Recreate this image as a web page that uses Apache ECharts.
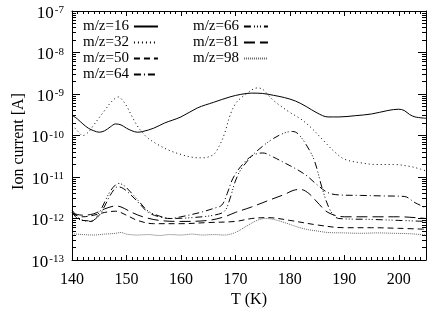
<!DOCTYPE html>
<html>
<head>
<meta charset="utf-8">
<script src="https://cdn.jsdelivr.net/npm/echarts@6/dist/echarts.min.js"></script>
<style>
html,body{margin:0;padding:0;background:#fff;}
#chart{width:436px;height:309px;}
</style>
</head>
<body>
<div id="chart"></div>
<script>
// Temperature (K) and ion current (A) for each m/z channel
const T16 = [140,141,142,143,144,145,146,147,148,149,150,151,152,153,155,157,160,163,166,169,171,173,175,177,179,181,183,185,187,189,192,195,198,200,201,202,203,205];
const I16 = [3.1e-10,2.5e-10,1.9e-10,1.5e-10,1.3e-10,1.2e-10,1.3e-10,1.6e-10,1.9e-10,1.8e-10,1.5e-10,1.3e-10,1.2e-10,1.25e-10,1.5e-10,2.0e-10,2.8e-10,4.6e-10,6.3e-10,8.5e-10,9.8e-10,1.05e-9,1.03e-9,9.3e-10,8.2e-10,6.8e-10,5.0e-10,3.5e-10,2.8e-10,2.8e-10,3.0e-10,3.3e-10,4.0e-10,4.3e-10,4.0e-10,3.2e-10,2.8e-10,2.6e-10];

const T32 = [140,141,142,143,144,145,146,147,148,148.5,149,150,151,152,153,154,156,158,160,162,164,166,167,168,169,170,171,172,173,174,175,176,177,178,180,182,184,186,188,190,193,196,199,202,204,205];
const I32 = [1.8e-10,1.3e-10,1.0e-10,1.2e-10,1.8e-10,2.7e-10,4.0e-10,6.0e-10,8.0e-10,8.5e-10,7.8e-10,5.2e-10,2.9e-10,1.7e-10,1.15e-10,8.5e-11,5.8e-11,4.3e-11,3.5e-11,3.0e-11,2.9e-11,3.5e-11,5.5e-11,1.1e-10,3.0e-10,5.8e-10,8.0e-10,1.0e-9,1.25e-9,1.4e-9,1.3e-9,9.5e-10,7.0e-10,5.5e-10,3.6e-10,2.5e-10,1.5e-10,8.0e-11,4.3e-11,2.7e-11,2.2e-11,2.0e-11,2.0e-11,1.8e-11,1.55e-11,1.4e-11];

const T50 = [140,142,144,146,148,150,152,155,160,165,170,173,176,180,185,190,195,200,205];
const I50 = [1.3e-12,1.1e-12,1.2e-12,1.4e-12,1.5e-12,1.2e-12,9e-13,7.5e-13,7.5e-13,8e-13,8.5e-13,1.0e-12,1.05e-12,9e-13,7e-13,6e-13,6e-13,5.8e-13,5.5e-13];

const T64 = [140,141,142,143.5,145,146,147,148,148.5,149.5,151,152.5,154,156,158,160,162,164,166,167.5,168.5,169.5,171,173,175,177,179,181,183,185,187,189,193,197,201,203,205];
const I64 = [1.6e-12,1.1e-12,9e-13,8.8e-13,1.2e-12,2.0e-12,3.6e-12,5.5e-12,5.8e-12,5.2e-12,3.5e-12,2.2e-12,1.4e-12,1.1e-12,1.0e-12,1.1e-12,1.25e-12,1.45e-12,1.75e-12,2.1e-12,4e-12,9e-12,1.8e-11,3.2e-11,3.8e-11,3.0e-11,2.2e-11,1.6e-11,1.1e-11,6.5e-12,4.2e-12,3.7e-12,3.6e-12,3.5e-12,3.4e-12,2.4e-12,1.8e-12];

const T66 = [140,141,142,143.5,145,146,147,148,148.5,149.5,151,152.5,154,156,158,162,166,168,169,170,171,173,175,177,179,180.5,181.5,183,184.5,186,187.5,189,195,200,205];
const I66 = [1.4e-12,1.0e-12,9e-13,8.5e-13,1.4e-12,2.5e-12,4.5e-12,6.5e-12,7e-12,6.3e-12,4e-12,2.4e-12,1.5e-12,1.15e-12,1.0e-12,1.05e-12,1.2e-12,1.5e-12,3e-12,8e-12,1.5e-11,3.2e-11,5.5e-11,8.5e-11,1.15e-10,1.25e-10,1.1e-10,6e-11,2.5e-11,5e-12,1.5e-12,1.0e-12,9.5e-13,9e-13,8.5e-13];

const T81 = [140,142,144,146,148,149,151,153,156,160,165,168,170,173,176,179,181,182,183.5,185,187,190,195,200,203,205];
const I81 = [1.35e-12,1.2e-12,1.3e-12,1.7e-12,2.0e-12,1.9e-12,1.4e-12,1.1e-12,9e-13,8.5e-13,9e-13,1.1e-12,1.4e-12,1.9e-12,2.7e-12,3.8e-12,4.9e-12,5e-12,4e-12,2.5e-12,1.4e-12,1.1e-12,1.1e-12,1.1e-12,1.05e-12,1.0e-12];

const T98 = [140,142,144,146,148,149,150,152,154,156,158,160,162,164,166,168,170,172,174,175.5,177,179,181,183,185,187,190,193,196,199,202,205];
const I98 = [4.3e-13,4.1e-13,4.0e-13,4.2e-13,4.4e-13,4.6e-13,4.2e-13,4.0e-13,4.1e-13,3.9e-13,4.1e-13,4.0e-13,4.2e-13,4.0e-13,4.1e-13,4.0e-13,4.6e-13,6.5e-13,9e-13,1.0e-12,9.5e-13,8e-13,6.5e-13,5.5e-13,5e-13,4.6e-13,4.5e-13,4.4e-13,4.5e-13,4.4e-13,4.3e-13,4.0e-13];

const xTicks = [140,150,160,170,180,190,200];
const yDecades = [-13,-12,-11,-10,-9,-8,-7];

const SCALE = 1e13; // plot in units of 1e-13 A on the log axis
const FONT = 'Liberation Serif';

function pairs(T, I){ return T.map((t,i)=>[t, I[i]*SCALE]); }

const defs = [
  {name:'m/z=16', T:T16, I:I16, dash:'solid', color:'#000'},
  {name:'m/z=32', T:T32, I:I32, dash:[1,3], color:'#000'},
  {name:'m/z=50', T:T50, I:I50, dash:[6,4], color:'#000'},
  {name:'m/z=64', T:T64, I:I64, dash:[7,3,1,3], color:'#000'},
  {name:'m/z=66', T:T66, I:I66, dash:[7,3,1,2,1,2,1,3], color:'#000'},
  {name:'m/z=81', T:T81, I:I81, dash:[11,5], color:'#000'},
  {name:'m/z=98', T:T98, I:I98, dash:[1,1], color:'#666'}
];

const series = defs.map(d => ({
  name: d.name,
  type: 'line',
  data: pairs(d.T, d.I),
  symbol: 'none',
  showSymbol: false,
  smooth: 0.35,
  lineStyle: {color: d.color, width: 1, type: d.dash},
  itemStyle: {color: d.color},
  animation: false
}));

const yMin = Math.pow(10, yDecades[0]) * SCALE;
const yMax = Math.pow(10, yDecades[yDecades.length-1]) * SCALE;

function yLabel(v){
  const e = Math.round(Math.log10(v)) - 13;
  return '{b|10}{s|' + e + '}';
}

const axisLine = {show:true, lineStyle:{color:'#000', width:1}};
const legendText = {fontFamily: FONT, fontSize: 15, color:'#000', padding:[0,0,7,0]};
const legendCommon = {orient:'vertical', top:14, align:'right', itemWidth:24, itemHeight:10, itemGap:1,
  textStyle: legendText, itemStyle:{opacity:0, borderWidth:0}};

const option = {
  backgroundColor: '#fff',
  animation: false,
  grid: {left:72, right:10, top:11, bottom:49, containLabel:false, outerBoundsMode:'none'},
  legend: [
    Object.assign({data: defs.slice(0,4).map(d=>d.name), left:78}, legendCommon),
    Object.assign({data: defs.slice(4).map(d=>d.name), left:188}, legendCommon)
  ],
  xAxis: [
    {type:'value', min:xTicks[0], max:205, interval:10, position:'bottom',
     name:'T (K)', nameLocation:'middle', nameGap:32, nameMoveOverlap:false,
     nameTextStyle:{fontFamily:FONT, fontSize:16, color:'#000'},
     axisLine: axisLine,
     axisTick:{show:true, inside:true, length:5, lineStyle:{color:'#000'}},
     minorTick:{show:true, splitNumber:10, length:3, lineStyle:{color:'#000', width:1}},
     axisLabel:{fontFamily:FONT, fontSize:16, color:'#000', margin:12, showMaxLabel:false},
     splitLine:{show:false}},
    {type:'value', min:xTicks[0], max:205, interval:10, position:'top',
     axisLine: axisLine,
     axisTick:{show:true, inside:true, length:5, lineStyle:{color:'#000'}},
     minorTick:{show:true, splitNumber:10, length:3, lineStyle:{color:'#000', width:1}},
     axisLabel:{show:false}, splitLine:{show:false}}
  ],
  yAxis: [
    {type:'log', logBase:10, min:yMin, max:yMax, position:'left',
     name:'Ion current [A]', nameLocation:'middle', nameGap:45, nameRotate:90, nameMoveOverlap:false,
     nameTextStyle:{fontFamily:FONT, fontSize:16, color:'#000', padding:[0,12,0,0]},
     axisLine: axisLine,
     axisTick:{show:true, inside:true, length:8, lineStyle:{color:'#000'}},
     minorTick:{show:true, splitNumber:9, length:4, lineStyle:{color:'#000', width:1}},
     axisLabel:{formatter: yLabel, margin:8, color:'#000', padding:[5,0,0,0],
       rich:{b:{fontFamily:FONT, fontSize:17, color:'#000'},
             s:{fontFamily:FONT, fontSize:11, color:'#000', verticalAlign:'top', padding:[0,0,6,1]}}},
     splitLine:{show:false}},
    {type:'log', logBase:10, min:yMin, max:yMax, position:'right',
     axisLine: axisLine,
     axisTick:{show:true, inside:true, length:8, lineStyle:{color:'#000'}},
     minorTick:{show:true, splitNumber:9, length:4, lineStyle:{color:'#000', width:1}},
     axisLabel:{show:false}, splitLine:{show:false}}
  ],
  series: series
};

const chart = echarts.init(document.getElementById('chart'), null, {renderer:'canvas'});
chart.setOption(option);
</script>
</body>
</html>
